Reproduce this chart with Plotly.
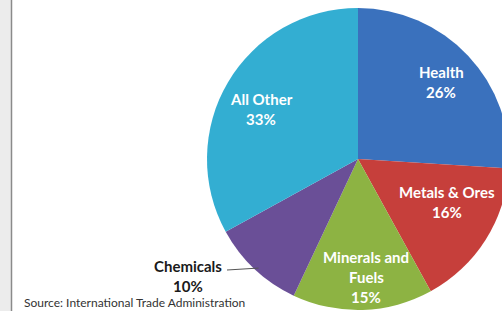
import math
import plotly.graph_objects as go

# Data
categories = ["Health", "Metals & Ores", "Minerals and Fuels", "Chemicals", "All Other"]
label_lines = [["Health"], ["Metals & Ores"], ["Minerals and", "Fuels"], ["Chemicals"], ["All Other"]]
shares = [26, 16, 15, 10, 33]
source_note = "Source: International Trade Administration"

# Styling / layout
colors = ["#3a71bd", "#c63f3b", "#8db343", "#6a4f97", "#33aed2"]
label_colors = ["white", "white", "white", "#1a1a1a", "white"]
# centre x and first-line centre y (px) of each label block
label_anchor_px = [(441, 72), (447, 192), (366, 257), (188, 266), (261, 99)]
LINE_GAP = 20
W, H = 520, 311
PIE_X0, PIE_X1 = 207, 509
PIE_TOP, PIE_BOTTOM = 8, 310
CX = (PIE_X0 + PIE_X1) / 2
CY = (PIE_TOP + PIE_BOTTOM) / 2
R = (PIE_X1 - PIE_X0) / 2

def px_x(x):
    return x / W

def px_y(y):
    return 1 - y / H

fig = go.Figure(
    go.Pie(
        labels=categories,
        values=shares,
        textinfo="none",
        sort=False,
        direction="clockwise",
        rotation=0,
        marker=dict(colors=colors, line=dict(width=0)),
        showlegend=False,
        hoverinfo="label+percent",
        domain=dict(x=[px_x(PIE_X0), px_x(PIE_X1)], y=[px_y(PIE_BOTTOM), px_y(PIE_TOP)]),
    )
)

total = sum(shares)
annotations = []
for lines, v, col, (ax, ay) in zip(label_lines, shares, label_colors, label_anchor_px):
    pct = f"{round(100 * v / total)}%"
    for i, line in enumerate(lines + [pct]):
        annotations.append(dict(
            text=f"<b>{line}</b>", xref="paper", yref="paper",
            x=px_x(ax), y=px_y(ay + i * LINE_GAP), xanchor="center", yanchor="middle",
            showarrow=False, font=dict(family="Lato", size=15, color=col)))

annotations.append(dict(
    text=source_note, xref="paper", yref="paper", x=px_x(23), y=px_y(311),
    xanchor="left", yanchor="bottom", showarrow=False, borderpad=0,
    font=dict(family="Lato", size=12, color="#333333")))

# leader line for the outside label (Chemicals) to the slice's mid-angle on the rim
idx = categories.index("Chemicals")
mid = (sum(shares[:idx]) + shares[idx] / 2) / total * 2 * math.pi
tip_x = CX + R * math.sin(mid)
tip_y = CY - R * math.cos(mid)

fig.update_layout(
    width=W,
    height=H,
    margin=dict(l=0, r=0, t=0, b=0),
    paper_bgcolor="white",
    plot_bgcolor="white",
    shapes=[
        dict(type="rect", xref="paper", yref="paper", x0=0, x1=px_x(11), y0=0, y1=1,
             fillcolor="#ececec", line=dict(width=0), layer="below"),
        dict(type="line", xref="paper", yref="paper", x0=px_x(11.5), x1=px_x(11.5), y0=0, y1=1,
             line=dict(color="#8a8a8a", width=1.5)),
        dict(type="line", xref="paper", yref="paper", x0=px_x(227), y0=px_y(270),
             x1=px_x(tip_x + 4), y1=px_y(tip_y - 1),
             line=dict(color="#555555", width=1)),
    ],
    annotations=annotations,
)

fig.write_html(
    "out.html",
    config={"displayModeBar": False},
    post_script="document.body.style.margin='0';document.body.style.overflow='hidden';document.documentElement.style.overflow='hidden';",
)
